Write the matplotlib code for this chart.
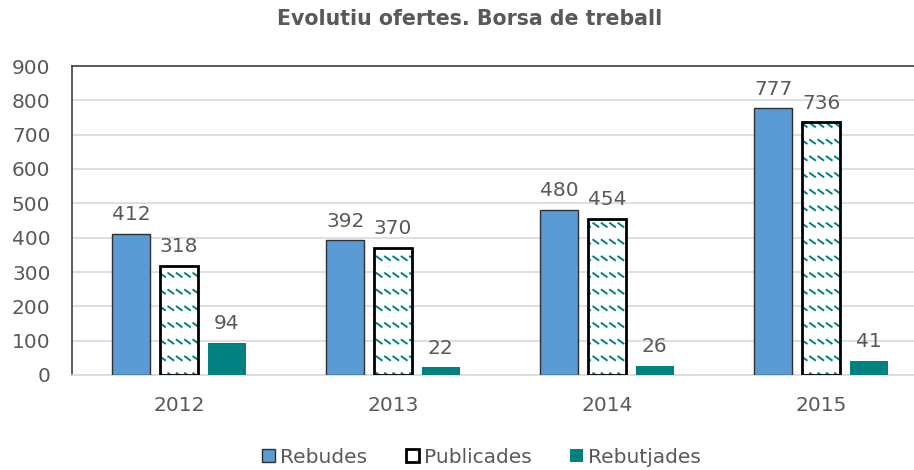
import numpy as np
import matplotlib
matplotlib.use("Agg")
import matplotlib.pyplot as plt
from matplotlib import hatch as mhatch
from matplotlib.path import Path
from matplotlib.patches import Patch

# data
years = ["2012", "2013", "2014", "2015"]
rebudes = [412, 392, 480, 777]
publicades = [318, 370, 454, 736]
rebutjades = [94, 22, 26, 41]
yticks = [0, 100, 200, 300, 400, 500, 600, 700, 800, 900]

txt = "#595959"
blue = "#5B9BD5"
teal = "#00807F"


# small diagonal dashes, like the Excel pattern fill
class DashHatch(mhatch.HatchPatternBase):
    rows = 6
    cols = 12

    def __init__(self, hatch, density):
        n = hatch.count("\\")
        self.num_vertices = self.rows * self.cols * 2 if n else 0

    def set_vertices_and_codes(self, vertices, codes):
        ys = (np.arange(self.rows) + 0.5) / self.rows
        xs = (np.arange(self.cols) + 0.2) / self.cols
        gx, gy = np.meshgrid(xs, ys)
        gx, gy = gx.ravel(), gy.ravel()
        vertices[0::2, 0] = gx
        vertices[0::2, 1] = gy + 0.018
        vertices[1::2, 0] = gx + 0.05
        vertices[1::2, 1] = gy - 0.018
        codes[0::2] = Path.MOVETO
        codes[1::2] = Path.LINETO


mhatch._hatch_types = [DashHatch]

plt.rcParams["font.family"] = "DejaVu Sans"
plt.rcParams["hatch.linewidth"] = 1.4

fig = plt.figure(figsize=(9.14, 4.70), dpi=100)
# plot area runs past the right edge, like the cropped original
ax = fig.add_axes([72 / 914, 95 / 470, 856 / 914, 309 / 470])

x = np.arange(len(years))
w = 0.178
off = 0.223

b1 = ax.bar(x - off, rebudes, w, color=blue, edgecolor="#2F2F2F", linewidth=1.0, zorder=3)
b2h = ax.bar(x, publicades, w, color="white", edgecolor=teal, hatch="\\\\", linewidth=0, zorder=3)
b2 = ax.bar(x, publicades, w, color="none", edgecolor="black", linewidth=2.0, zorder=4)
b3 = ax.bar(x + off, rebutjades, w, color=teal, linewidth=0, zorder=3)

for bars, vals in [(b1, rebudes), (b2, publicades), (b3, rebutjades)]:
    for r, v in zip(bars, vals):
        ax.annotate(str(v), (r.get_x() + r.get_width() / 2, v), xytext=(0, 7),
                    textcoords="offset points", ha="center", va="bottom",
                    fontsize=14.5, color=txt)

ax.set_xlim(-0.5, 3.5)
ax.set_ylim(0, 900)
ax.set_yticks(yticks)
ax.set_xticks(x)
ax.set_xticklabels(years)
ax.tick_params(axis="both", length=0, labelsize=14.5, labelcolor=txt)
ax.tick_params(axis="y", pad=15.5)
ax.tick_params(axis="x", pad=15)
ax.grid(axis="y", color="#D9D9D9", linewidth=1.2, zorder=0)

for s in ["top", "left"]:
    ax.spines[s].set_color("#404040")
    ax.spines[s].set_linewidth(1.2)
ax.spines["bottom"].set_color("#D9D9D9")
ax.spines["bottom"].set_linewidth(1.2)
ax.spines["right"].set_visible(False)

fig.text(0.514, 0.96, "Evolutiu ofertes. Borsa de treball", ha="center", va="center",
         fontsize=14.8, fontweight="bold", color=txt)

h1 = Patch(facecolor=blue, edgecolor="#2F2F2F", linewidth=1.0)
h2 = Patch(facecolor="white", edgecolor="black", linewidth=2.0)
h3 = Patch(facecolor=teal, linewidth=0)
fig.legend([h1, h2, h3], ["Rebudes", "Publicades", "Rebutjades"],
           loc="center", bbox_to_anchor=(0.527, 0.027), ncol=3, frameon=False,
           fontsize=14.5, labelcolor=txt, handlelength=0.65, handleheight=0.65,
           handletextpad=0.25, columnspacing=1.9)

fig.savefig("out.png", dpi=100)
